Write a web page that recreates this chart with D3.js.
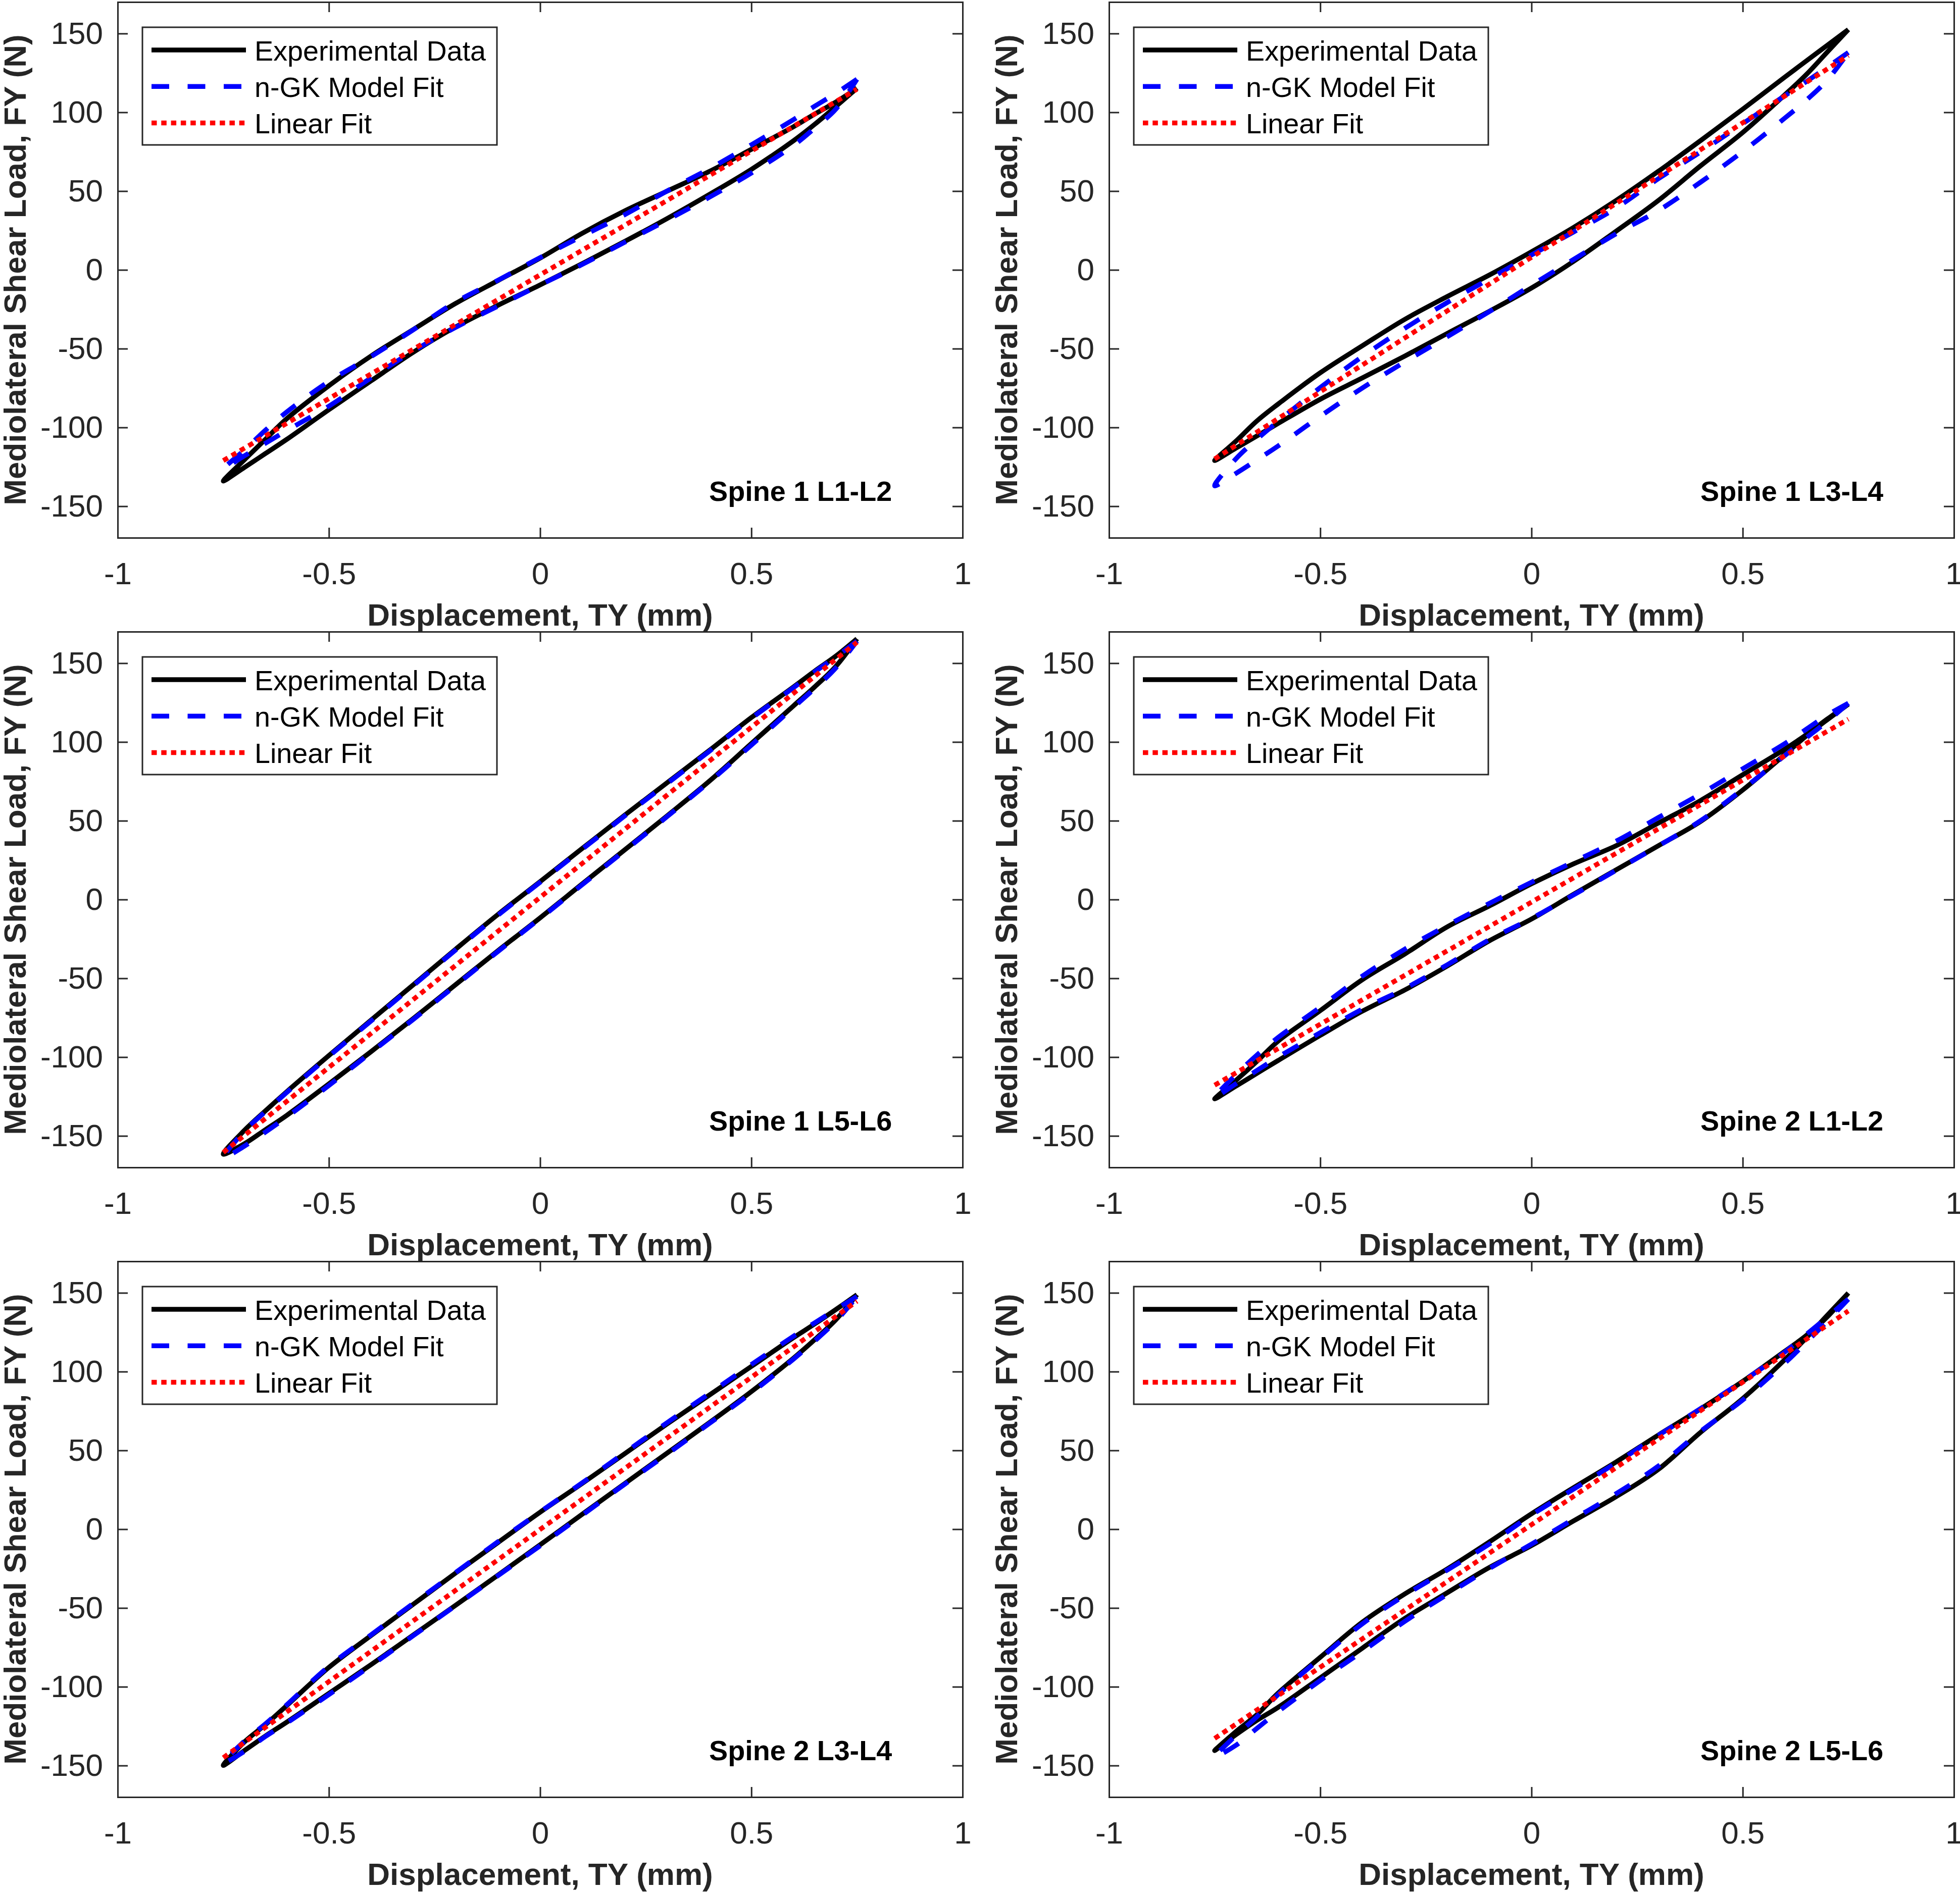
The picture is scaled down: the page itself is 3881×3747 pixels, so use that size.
<!DOCTYPE html>
<html>
<head>
<meta charset="utf-8">
<script src="https://cdn.jsdelivr.net/npm/d3@7"></script>
<style>
  body { margin: 0; background: #fff; }
</style>
</head>
<body>
<svg id="fig"></svg>
<script>
// ---- data ----
const panelLabels = ["Spine 1 L1-L2", "Spine 1 L3-L4", "Spine 1 L5-L6",
                     "Spine 2 L1-L2", "Spine 2 L3-L4", "Spine 2 L5-L6"];
const legendLabels = ["Experimental Data", "n-GK Model Fit", "Linear Fit"];
const xTicks = [-1, -0.5, 0, 0.5, 1];
const yTicks = [-150, -100, -50, 0, 50, 100, 150];

// displacement grid (mm) shared by every loop branch
const xGrid = [-0.75, -0.7, -0.65, -0.6, -0.5, -0.4, -0.3, -0.2, -0.1, 0,
               0.1, 0.2, 0.3, 0.4, 0.5, 0.6, 0.65, 0.7, 0.75];

// experimental data, upper branch (unloading) per panel
const expUpper = [
  [-134, -120.5, -107.5, -94.5, -73.5, -54.6, -37.8, -21.3, -6.8, 7.5, 23.3, 37.4, 49.9, 62.4, 76.5, 90.9, 98.9, 106.5, 115.3],
  [-121, -108.8, -95.9, -85.2, -65.3, -48.1, -31.4, -17, -3.3, 11.5, 27, 44, 62.5, 82, 102, 122.4, 132.5, 142.5, 152.5],
  [-161.6, -146.5, -134, -122, -99, -76.5, -54, -31.5, -9.5, 11.4, 32.5, 53.5, 74, 94.5, 115.5, 135, 145, 154.5, 165.5],
  [-126.5, -114.9, -102.7, -89.9, -70.5, -50.8, -34.6, -17.4, -4.1, 10, 22.7, 34.1, 48.5, 62.8, 79.2, 95.5, 104.5, 114.5, 124],
  [-149.9, -135, -124, -112, -87.7, -67.4, -47.6, -27.8, -8.5, 10.8, 29.1, 47.9, 66.7, 85, 103.3, 121.6, 130.3, 139.4, 148.8],
  [-140.5, -128.5, -117.7, -104.1, -81.3, -58.9, -41.1, -25.3, -8.1, 9.8, 26.4, 42.6, 59.7, 76.3, 93.8, 113, 122.8, 134.7, 149.9]
];
// experimental data, lower branch (loading) per panel
const expLower = [
  [-134, -125.4, -116.5, -107.6, -88.7, -70.4, -52.2, -36.2, -22.5, -9.5, 4, 18, 32.5, 47.8, 63.8, 82, 92.4, 103.7, 115.3],
  [-121, -113.2, -105.4, -97.5, -82.1, -68.5, -54.7, -40.4, -26.3, -11.5, 5.5, 24.5, 44, 66, 87.2, 111.2, 123.8, 138.2, 152.5],
  [-161.6, -155, -146, -137, -117, -96.5, -75.5, -54, -32.5, -11.6, 10, 31.5, 53, 75, 99, 123, 135, 148, 165.5],
  [-126.5, -118.5, -110.3, -102.2, -86.2, -70.8, -57.4, -42.3, -26.2, -12.4, 3.4, 18.8, 34.1, 49.5, 69.5, 92.1, 103.7, 114.1, 124],
  [-149.9, -140.5, -131.2, -122.5, -104.2, -85.9, -67.1, -48.3, -29.2, -9.9, 9.6, 28.9, 48.2, 67.5, 87.3, 108.6, 120.3, 132.9, 148.8],
  [-140.5, -130.5, -121.3, -113.1, -94.3, -75.4, -56.6, -40.4, -24.3, -10.4, 5.3, 20.6, 37.9, 61.4, 82.9, 107.7, 121.3, 135.7, 149.9]
];
// n-GK model fit, upper branch per panel
const fitUpper = [
  [-126.3, -114.3, -101.7, -90.2, -70.8, -55, -38, -20.4, -6.6, 7.8, 21.5, 35, 50, 64.1, 79.4, 95.4, 103.9, 112.1, 121],
  [-137, -120, -107.5, -96.2, -74.7, -54.9, -37.1, -20.8, -5.8, 9.5, 24.1, 39.2, 57.8, 74.8, 92.8, 110.6, 119.4, 128.6, 138],
  [-164, -147, -134.5, -122.5, -99.5, -77, -54.5, -32, -10, 11, 32, 53, 73.5, 94, 115, 134.5, 144.5, 154, 164],
  [-125.5, -111.3, -98.7, -87.6, -68.3, -48.5, -31.5, -16.5, -2.5, 11, 24, 37, 52, 67, 83, 99, 108, 117, 124.6],
  [-148.5, -134.5, -123.5, -111.5, -87, -67, -47, -27.5, -8, 11, 29.5, 48.5, 67.5, 86, 104.5, 122.5, 131, 139.5, 147.7],
  [-144.5, -131, -119, -105, -82, -60, -42, -26, -9.5, 9, 25.5, 42, 59.5, 76.5, 94, 112.5, 123.5, 134.5, 146]
];
// n-GK model fit, lower branch per panel
const fitLower = [
  [-126.3, -118, -110, -102, -86.5, -68.5, -51.5, -36.5, -23, -9.5, 3.5, 17.5, 31.5, 46, 61.5, 79, 90, 102, 121],
  [-137, -129.2, -120.6, -111.8, -92.9, -74.9, -58.4, -42.5, -26.5, -9.7, 6.7, 22.9, 37.6, 55.6, 75.1, 96.4, 107.6, 120.4, 138],
  [-164, -156.5, -147.5, -138, -118, -97, -76, -54.5, -33, -12, 9.5, 31, 52.5, 74.5, 98, 122, 134, 147, 164],
  [-125.5, -117, -108.5, -100, -84.5, -69.5, -56.5, -41.5, -25.5, -12, 3, 18.5, 34, 50, 70, 91.5, 102.5, 113, 124.6],
  [-148.5, -141, -131.5, -123, -105, -86.5, -67.5, -48.5, -29.5, -10.5, 9, 28.5, 47.5, 67, 86.5, 108, 119.5, 132, 147.7],
  [-144.5, -137.2, -126.4, -115.8, -96, -77.5, -58.5, -41.5, -25, -9.5, 6.5, 22.5, 40, 62, 82, 105.5, 118.5, 132, 146]
];
// linear fit end points (at x = -0.75 and 0.75)
const linearX = [-0.75, 0.75];
const linearY = [
  [-121, 114.7],
  [-120, 136],
  [-160.5, 163.3],
  [-117.8, 114.5],
  [-145, 144.7],
  [-132.8, 138.5]
];

// ---- layout ----
const W = 3881, H = 3747;
const FONT = '"Liberation Sans", Arial, Helvetica, sans-serif';
const axisColor = "#262626";
const colLeft = [233, 2196];
const rowTop = [4, 1251, 2498];
const axW = 1673, axH = 1061;

const styles = [
  { color: "#000000", width: 9.5, dash: null },
  { color: "#0000ff", width: 9.5, dash: "35,36.5" },
  { color: "#ff0000", width: 9.5, dash: "10.5,8.8" }
];

const svg = d3.select("#fig").attr("width", W).attr("height", H);
svg.append("rect").attr("width", W).attr("height", H).attr("fill", "#fff");

function styleAxis(sel) {
  sel.attr("color", axisColor)
     .attr("font-size", 62)
     .attr("font-family", FONT);
  sel.select(".domain").attr("stroke-width", 3).attr("stroke-linecap", "square");
  sel.selectAll(".tick line").attr("stroke-width", 3);
  sel.selectAll(".tick text").attr("fill", axisColor);
}

function loopPoints(upper, lower) {
  const pts = [];
  for (let k = xGrid.length - 1; k >= 0; k--) pts.push([xGrid[k], upper[k]]);
  for (let k = 1; k < xGrid.length; k++) pts.push([xGrid[k], lower[k]]);
  return pts;
}

panelLabels.forEach((label, i) => {
  const col = i % 2, row = Math.floor(i / 2);
  const g = svg.append("g").attr("transform", `translate(${colLeft[col]},${rowTop[row]})`);

  const x = d3.scaleLinear().domain([-1, 1]).range([0, axW]);
  const y = d3.scaleLinear().domain([-170, 170]).range([axH, 0]);

  // axes box with inward ticks
  g.append("g").attr("transform", `translate(0,${axH})`)
    .call(d3.axisBottom(x).tickValues(xTicks).tickFormat(d => String(d))
      .tickSizeInner(-20).tickSizeOuter(0).tickPadding(48))
    .call(styleAxis);
  g.append("g")
    .call(d3.axisLeft(y).tickValues(yTicks).tickFormat(d => String(d))
      .tickSizeInner(-20).tickSizeOuter(0).tickPadding(29))
    .call(styleAxis);
  g.append("g")
    .call(d3.axisTop(x).tickValues(xTicks).tickFormat(() => "")
      .tickSizeInner(-20).tickSizeOuter(0))
    .call(styleAxis);
  g.append("g").attr("transform", `translate(${axW},0)`)
    .call(d3.axisRight(y).tickValues(yTicks).tickFormat(() => "")
      .tickSizeInner(-20).tickSizeOuter(0))
    .call(styleAxis);

  // axis labels
  g.append("text")
    .attr("x", axW / 2).attr("y", axH + 174)
    .attr("text-anchor", "middle")
    .attr("font-family", FONT).attr("font-size", 62).attr("font-weight", "bold")
    .attr("fill", axisColor)
    .text("Displacement, TY (mm)");
  g.append("text")
    .attr("transform", `translate(-182,${axH / 2}) rotate(-90)`)
    .attr("text-anchor", "middle")
    .attr("font-family", FONT).attr("font-size", 62).attr("font-weight", "bold")
    .attr("fill", axisColor)
    .text("Mediolateral Shear Load, FY (N)");

  // curves
  const lineGen = d3.line()
    .x(d => x(d[0]))
    .y(d => y(d[1]))
    .curve(d3.curveCatmullRom.alpha(0.5));
  const straight = d3.line().x(d => x(d[0])).y(d => y(d[1]));

  const series = [
    loopPoints(expUpper[i], expLower[i]),
    loopPoints(fitUpper[i], fitLower[i]),
    linearX.map((v, k) => [v, linearY[i][k]])
  ];
  series.forEach((pts, s) => {
    g.append("path")
      .attr("d", s === 2 ? straight(pts) : lineGen(pts))
      .attr("fill", "none")
      .attr("stroke", styles[s].color)
      .attr("stroke-width", styles[s].width)
      .attr("stroke-linejoin", "round")
      .attr("stroke-dasharray", styles[s].dash);
  });

  // panel annotation
  g.append("text")
    .attr("x", x(0.4)).attr("y", y(-146.5))
    .attr("font-family", FONT).attr("font-size", 55.7).attr("font-weight", "bold")
    .attr("fill", "#000")
    .text(label);

  // legend
  const leg = g.append("g").attr("transform", "translate(49,50)");
  leg.append("rect")
    .attr("width", 702).attr("height", 233)
    .attr("fill", "#fff").attr("stroke", axisColor).attr("stroke-width", 3);
  legendLabels.forEach((name, k) => {
    const ly = 45 + k * 72.3;
    leg.append("line")
      .attr("x1", 18).attr("x2", 205).attr("y1", ly).attr("y2", ly)
      .attr("stroke", styles[k].color)
      .attr("stroke-width", styles[k].width)
      .attr("stroke-dasharray", styles[k].dash);
    leg.append("text")
      .attr("x", 222).attr("y", ly + 20.7)
      .attr("font-family", FONT).attr("font-size", 55.7)
      .attr("fill", "#000")
      .text(name);
  });
});
</script>
</body>
</html>
